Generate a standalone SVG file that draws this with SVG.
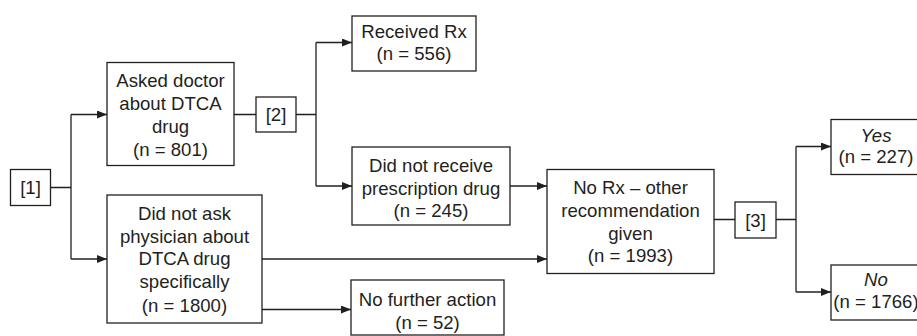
<svg xmlns="http://www.w3.org/2000/svg" width="917" height="336" viewBox="0 0 917 336">
<defs>
<style>
.box{fill:#fff;stroke:#231f20;stroke-width:1.3}
.t{font-family:"Liberation Sans",Arial,sans-serif;font-size:18.6px;fill:#231f20;text-anchor:middle}
.it{font-style:italic}
.c{fill:none;stroke:#231f20;stroke-width:1.3}
.a{marker-end:url(#ah)}
</style>
<marker id="ah" markerUnits="userSpaceOnUse" markerWidth="11" markerHeight="9" refX="10" refY="4" orient="auto">
<path d="M0,0 L10,4 L0,8 z" fill="#231f20"/>
</marker>
</defs>
<rect width="917" height="336" fill="#fff"/>
<g id="connectors">
<path class="c" d="M51,187.5 H71 M71,114.5 V259"/>
<path class="c a" d="M71,114.5 H107"/>
<path class="c a" d="M71,259 H107"/>
<path class="c" d="M234,114.5 H256 M296,114.5 H316 M316,42.5 V186"/>
<path class="c a" d="M316,42.5 H352"/>
<path class="c a" d="M316,186 H352"/>
<path class="c a" d="M510,186 H547"/>
<path class="c a" d="M262,259 H547"/>
<path class="c a" d="M262,309.5 H351"/>
<path class="c" d="M714,219.5 H735 M776,219.5 H796 M796,146.5 V292"/>
<path class="c a" d="M796,146.5 H831"/>
<path class="c a" d="M796,292 H831"/>
</g>
<g id="n1">
<rect class="box" x="10.5" y="169.5" width="40" height="36"/>
<text class="t" x="30.5" y="194">[1]</text>
</g>
<g id="asked">
<rect class="box" x="107" y="62.5" width="127" height="103"/>
<text class="t" x="170.5" y="87">Asked doctor</text>
<text class="t" x="170.5" y="110">about DTCA</text>
<text class="t" x="170.5" y="132.5">drug</text>
<text class="t" x="170.5" y="156">(n = 801)</text>
</g>
<g id="notask">
<rect class="box" x="107" y="195" width="155" height="128"/>
<text class="t" x="184.5" y="220">Did not ask</text>
<text class="t" x="184.5" y="242.5">physician about</text>
<text class="t" x="184.5" y="265">DTCA drug</text>
<text class="t" x="184.5" y="287.5">specifically</text>
<text class="t" x="184.5" y="311.5">(n = 1800)</text>
</g>
<g id="n2">
<rect class="box" x="256" y="97" width="40" height="35"/>
<text class="t" x="276" y="121">[2]</text>
</g>
<g id="received">
<rect class="box" x="352" y="16" width="124" height="55"/>
<text class="t" x="414" y="37.5">Received Rx</text>
<text class="t" x="414" y="60">(n = 556)</text>
</g>
<g id="notreceive">
<rect class="box" x="352" y="147" width="158" height="78"/>
<text class="t" x="431" y="172">Did not receive</text>
<text class="t" x="431" y="194.5">prescription drug</text>
<text class="t" x="431" y="217">(n = 245)</text>
</g>
<g id="further">
<rect class="box" x="351" y="280" width="153" height="55"/>
<text class="t" x="427.5" y="306">No further action</text>
<text class="t" x="427.5" y="328.5">(n = 52)</text>
</g>
<g id="other">
<rect class="box" x="547" y="169.5" width="167" height="104"/>
<text class="t" x="630.5" y="194">No Rx – other</text>
<text class="t" x="630.5" y="216.7">recommendation</text>
<text class="t" x="630.5" y="239.5">given</text>
<text class="t" x="630.5" y="262">(n = 1993)</text>
</g>
<g id="n3">
<rect class="box" x="735" y="202" width="41" height="36"/>
<text class="t" x="755.5" y="226.5">[3]</text>
</g>
<g id="yes">
<rect class="box" x="831" y="119.5" width="90" height="55"/>
<text class="t it" x="876" y="141.7">Yes</text>
<text class="t" x="876" y="163.3">(n = 227)</text>
</g>
<g id="no">
<rect class="box" x="831" y="265" width="90" height="55"/>
<text class="t it" x="876" y="286">No</text>
<text class="t" x="876" y="308.3">(n = 1766)</text>
</g>
</svg>
